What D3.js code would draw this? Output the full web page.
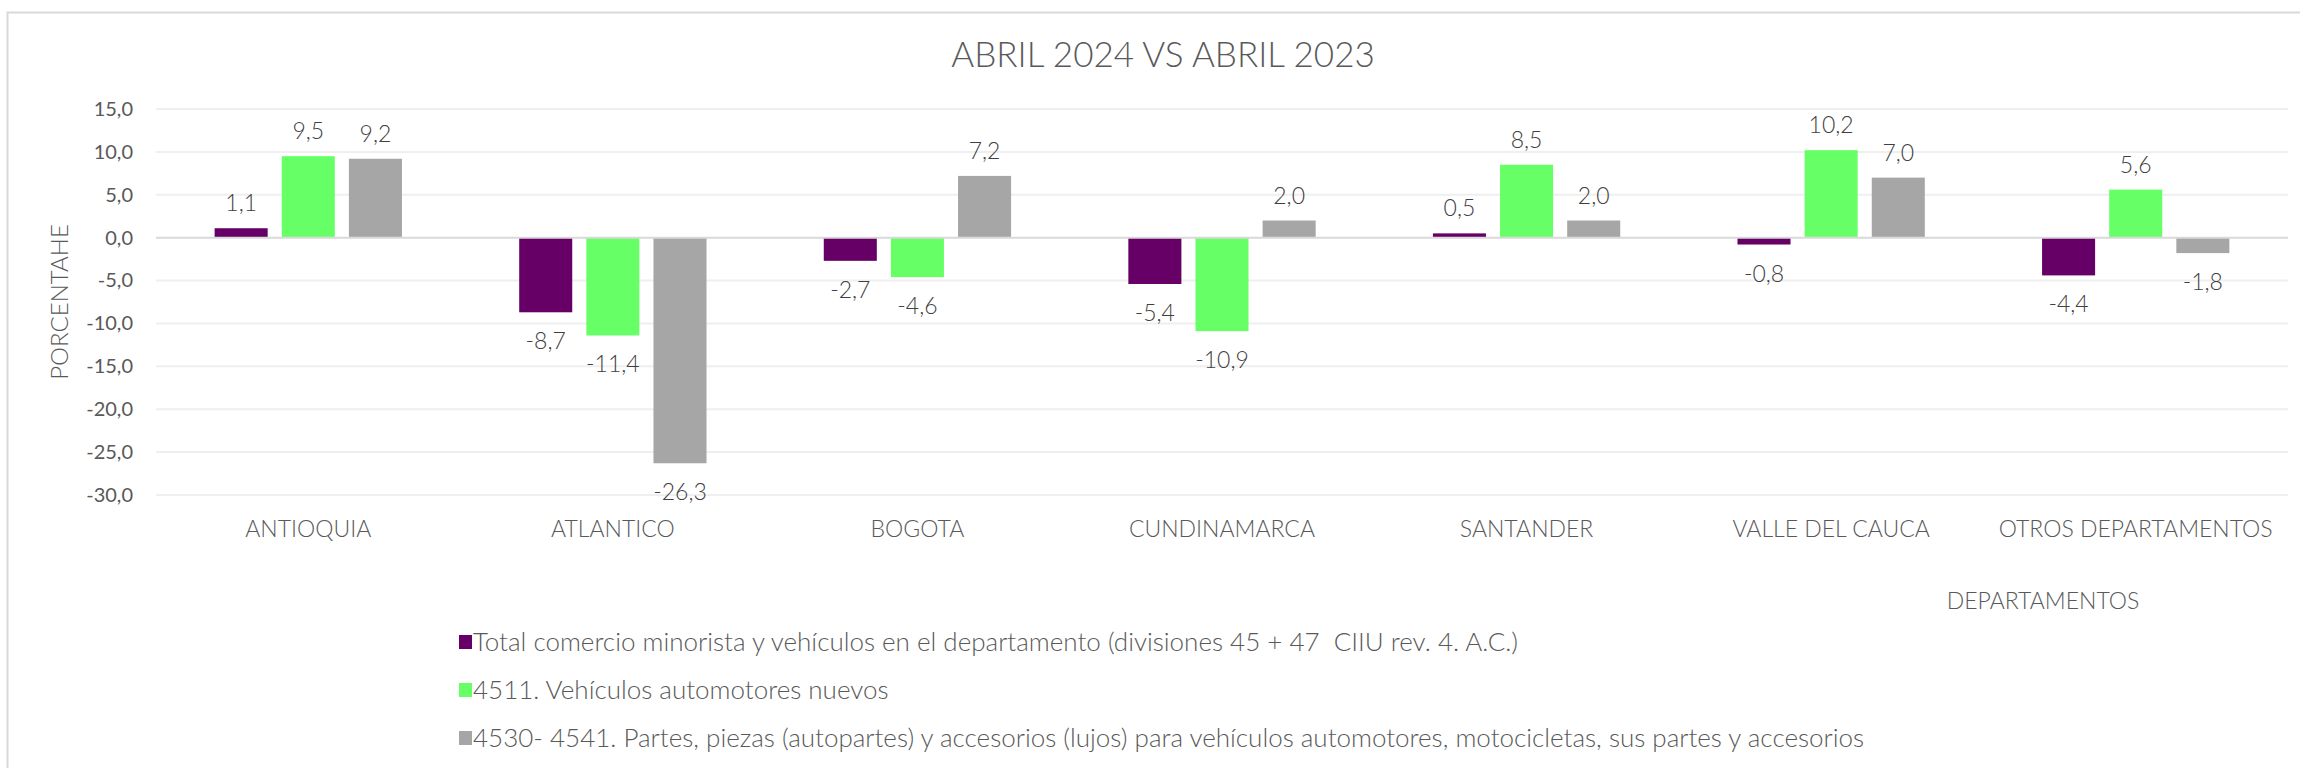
<!DOCTYPE html>
<html>
<head>
<meta charset="utf-8">
<script src="https://cdn.jsdelivr.net/npm/d3@7"></script>
<style>
    html, body { margin: 0; padding: 0; background: #ffffff; overflow: hidden; }
    svg { display: block; font-family: Lato, 'Open Sans', sans-serif; }
</style>
</head>
<body>
<div class="chart-container"></div>
<script>
    'use strict';

    // data
    const departments = ['ANTIOQUIA', 'ATLANTICO', 'BOGOTA', 'CUNDINAMARCA', 'SANTANDER', 'VALLE DEL CAUCA', 'OTROS DEPARTAMENTOS'];
    const seriesNames = [
        'Total comercio minorista y vehículos en el departamento (divisiones 45 + 47  CIIU rev. 4. A.C.)',
        '4511. Vehículos automotores nuevos',
        '4530- 4541. Partes, piezas (autopartes) y accesorios (lujos) para vehículos automotores, motocicletas, sus partes y accesorios'
    ];
    const totalValues = [1.1, -8.7, -2.7, -5.4, 0.5, -0.8, -4.4];
    const newVehicleValues = [9.5, -11.4, -4.6, -10.9, 8.5, 10.2, 5.6];
    const partsValues = [9.2, -26.3, 7.2, 2.0, 2.0, 7.0, -1.8];
    const yTicks = [15, 10, 5, 0, -5, -10, -15, -20, -25, -30];

    const chartTitle = 'ABRIL 2024 VS ABRIL 2023',
        yAxisTitle = 'PORCENTAHE',
        xAxisTitle = 'DEPARTAMENTOS';

    let width = 2300,
        height = 768,
        margin = {
            top: 109,
            right: 12,
            bottom: 273,
            left: 156
        },
        innerWidth = width - margin.left - margin.right,
        innerHeight = height - margin.top - margin.bottom,

        // Styles
        seriesColors = ['#660066', '#66FF66', '#A6A6A6'],
        gridColor = '#EFEFEF',
        zeroLineColor = '#D9D9D9',
        borderColor = '#D9D9D9',
        axisTextColor = '#595959',
        labelTextColor = '#404040';

    const locale = d3.formatLocale({
        decimal: ',',
        thousands: '.',
        grouping: [3],
        currency: ['', ''],
        minus: '-'
    });
    const valueFormat = locale.format('.1f');

    const series = [totalValues, newVehicleValues, partsValues];
    const rows = departments.map((name, i) => ({
        name,
        values: series.map((s, j) => ({ key: j, value: s[i] }))
    }));

    const svg = d3.select('.chart-container')
        .append('svg')
        .attr('width', width)
        .attr('height', height);

    // outer chart frame, only the left and top edges fall inside the picture
    svg.append('path')
        .attr('d', `M7.5,${height}V12.5H${width}`)
        .attr('fill', 'none')
        .attr('stroke', borderColor)
        .attr('stroke-width', 2);

    const x0 = d3.scaleBand()
        .domain(departments)
        .range([0, innerWidth])
        .paddingInner(0.385)
        .paddingOuter(0.1925);

    const x1 = d3.scaleBand()
        .domain(d3.range(series.length))
        .range([0, x0.bandwidth()])
        .paddingInner(0.21);

    const y = d3.scaleLinear()
        .domain([-30, 15])
        .range([innerHeight, 0]);

    const g = svg.append('g')
        .attr('transform', `translate(${margin.left},${margin.top})`);

    // gridlines
    g.append('g')
        .classed('grid', true)
        .selectAll('line')
        .data(yTicks.filter(d => d !== 0))
        .join('line')
        .attr('x1', 0)
        .attr('x2', innerWidth)
        .attr('y1', d => y(d))
        .attr('y2', d => y(d))
        .attr('stroke', gridColor)
        .attr('stroke-width', 2);

    // y axis labels
    const yAxis = g.append('g')
        .classed('y-axis', true)
        .call(d3.axisLeft(y).tickValues(yTicks).tickFormat(valueFormat).tickSize(0).tickPadding(23));

    yAxis.select('.domain').remove();
    yAxis.selectAll('text')
        .attr('fill', axisTextColor)
        .style('font-size', '20px')
        .style('font-family', 'Lato, sans-serif')
        .style('font-weight', 400);

    // bars
    const groups = g.append('g')
        .classed('bars', true)
        .selectAll('g')
        .data(rows)
        .join('g')
        .attr('transform', d => `translate(${x0(d.name)},0)`);

    groups.selectAll('rect')
        .data(d => d.values)
        .join('rect')
        .attr('x', d => x1(d.key))
        .attr('width', x1.bandwidth())
        .attr('y', d => y(Math.max(0, d.value)))
        .attr('height', d => Math.abs(y(d.value) - y(0)))
        .attr('fill', d => seriesColors[d.key]);

    // zero line
    g.append('line')
        .attr('x1', 0)
        .attr('x2', innerWidth)
        .attr('y1', y(0))
        .attr('y2', y(0))
        .attr('stroke', zeroLineColor)
        .attr('stroke-width', 2);

    // value labels
    groups.selectAll('text.value-label')
        .data(d => d.values)
        .join('text')
        .classed('value-label', true)
        .attr('x', d => x1(d.key) + x1.bandwidth() / 2)
        .attr('y', d => d.value >= 0 ? y(d.value) - 17 : y(d.value) + 37)
        .attr('text-anchor', 'middle')
        .attr('fill', labelTextColor)
        .style('font-size', '23px')
        .style('font-weight', 300)
        .text(d => valueFormat(d.value));

    // category labels
    g.append('g')
        .classed('x-axis', true)
        .selectAll('text')
        .data(departments)
        .join('text')
        .attr('x', d => x0(d) + x0.bandwidth() / 2)
        .attr('y', 536.5 - margin.top)
        .attr('text-anchor', 'middle')
        .attr('fill', axisTextColor)
        .style('font-size', '23px')
        .style('font-weight', 300)
        .text(d => d);

    // titles
    svg.append('text')
        .attr('x', 1163)
        .attr('y', 67)
        .attr('text-anchor', 'middle')
        .attr('fill', axisTextColor)
        .style('font-size', '35px')
        .style('font-weight', 300)
        .text(chartTitle);

    svg.append('text')
        .attr('transform', 'translate(68,302) rotate(-90)')
        .attr('text-anchor', 'middle')
        .attr('fill', axisTextColor)
        .style('font-size', '24px')
        .style('font-weight', 300)
        .text(yAxisTitle);

    svg.append('text')
        .attr('x', 2043)
        .attr('y', 609)
        .attr('text-anchor', 'middle')
        .attr('fill', axisTextColor)
        .style('font-size', '23px')
        .style('font-weight', 300)
        .text(xAxisTitle);

    // legend
    const legend = svg.append('g')
        .classed('legend', true)
        .attr('transform', 'translate(459,642)');

    const legendItems = legend.selectAll('g')
        .data(seriesNames)
        .join('g')
        .attr('transform', (d, i) => `translate(0,${i * 48})`);

    legendItems.append('rect')
        .attr('x', 0)
        .attr('y', -7)
        .attr('width', 13)
        .attr('height', 14)
        .attr('fill', (d, i) => seriesColors[i]);

    legendItems.append('text')
        .attr('x', 14)
        .attr('y', 9)
        .attr('fill', axisTextColor)
        .style('font-size', '26px')
        .style('font-weight', 300)
        .style('white-space', 'pre')
        .text(d => d);
</script>
</body>
</html>
